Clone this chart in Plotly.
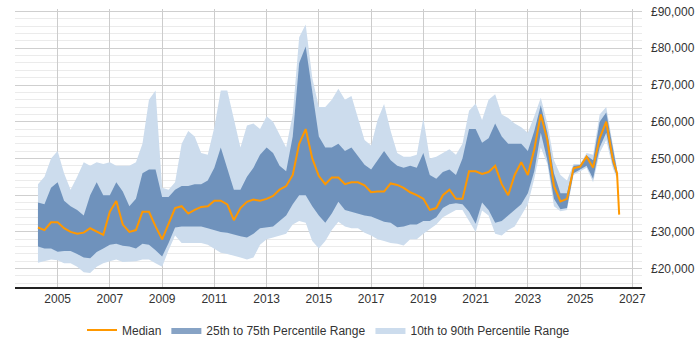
import pandas as pd
import plotly.graph_objects as go

# ---- data (quarterly, GBP) ----
quarters = [d.strftime("%Y-%m-%d") for d in pd.date_range("2004-04-01", "2026-04-01", freq="QS")]
band_dates = quarters + ["2026-06-01"]
median_dates = band_dates + ["2026-07-01"]

p10 = [21600, 22000, 22500, 22300, 21500, 21500, 20500, 19000, 18800, 20500,
       21500, 22000, 22500, 21800, 22000, 22000, 22500, 22500, 21500, 20500,
       25000, 29000, 27000, 27000, 27000, 27000, 26500, 25500, 24300, 24000,
       23600, 23000, 22500, 23000, 26500, 28000, 28500, 29000, 29500, 32000,
       33000, 32500, 27500, 25500, 27500, 30500, 32800, 31500, 31000, 31000,
       29800, 29000, 28000, 27500, 27000, 26800, 26300, 28000, 28000, 29500,
       30800, 32000, 34000, 35000, 36000, 36000, 33000, 30000, 35800, 34500,
       29500, 29000, 30500, 31500, 34500, 37500, 44500, 53000, 48500, 37000,
       35600, 36000, 45500, 46500, 47500, 43500, 51500, 55000, 47500, 44500]
p25 = [26000, 25500, 25500, 24600, 24800, 24800, 24000, 23000, 22800, 24500,
       25500, 26500, 26800, 26200, 26000, 25500, 26800, 26500, 25000, 23300,
       27000, 31200, 31500, 31500, 31500, 31500, 31000, 30500, 30000, 29800,
       29200, 28800, 28500, 29500, 31000, 31200, 31500, 33000, 34500, 37500,
       40000, 40000, 37000, 34500, 32500, 35000, 38200, 36000, 35500, 35000,
       34500, 34200, 33500, 32800, 32500, 31300, 31500, 32000, 32000, 33000,
       33000, 34000, 36500, 37500, 37800, 37500, 35500, 32200, 38000, 36000,
       32500, 33000, 34500, 36000, 37500, 40500, 46500, 57000, 49500, 39000,
       36200, 36500, 46000, 47000, 48000, 44500, 53000, 57000, 48500, 45000]
median = [31200, 30500, 32600, 32600, 31000, 30000, 29500, 29800, 31000, 30200,
          29200, 35500, 38400, 32000, 30000, 30500, 35500, 35500, 31500, 28000,
          32000, 36500, 37000, 35000, 36000, 36800, 37000, 38500, 38500, 37500,
          33200, 36500, 38200, 38800, 38500, 39000, 39800, 41500, 42500, 45500,
          54000, 58000, 50000, 45200, 43000, 44800, 44800, 43000, 43500, 43500,
          42700, 40800, 41000, 41000, 43200, 42800, 42000, 40800, 40000, 39000,
          36000, 36500, 40000, 41500, 39000, 39000, 46500, 46500, 45800, 46300,
          48000, 43000, 40000, 45500, 49000, 45500, 52500, 62000, 55000, 42500,
          38300, 39000, 47300, 47800, 50500, 47500, 55500, 60000, 50000, 46000,
          34700]
p75 = [38000, 37500, 42000, 43500, 38500, 37000, 36000, 34500, 40000, 43500,
       40000, 40000, 43500, 41000, 37000, 39000, 46000, 47000, 47000, 39500,
       39500, 41500, 42500, 42500, 43000, 43000, 44000, 47500, 53000, 47000,
       41500, 41500, 45000, 47500, 51000, 53000, 51500, 48000, 46500, 56000,
       76000, 80500, 68000, 56000, 53000, 53000, 54000, 52000, 53000, 50500,
       48300, 47000, 49500, 52000, 49500, 48000, 47500, 48000, 47500, 51500,
       45500, 44500, 46300, 47000, 45500, 50000, 58000, 58000, 54300, 55500,
       59500, 56000, 54000, 54000, 54000, 52000, 57500, 64500, 57000, 46000,
       40500, 40500, 48000, 48200, 50800, 49500, 60000, 62500, 52500, 46800]
p90 = [43000, 45000, 50000, 52000, 46000, 41500, 45000, 49000, 48000, 49000,
       48500, 49000, 48000, 48000, 48000, 49000, 54000, 66000, 68500, 42000,
       41500, 43500, 54000, 57500, 56000, 51500, 51000, 58500, 68500, 68500,
       61000, 53000, 59000, 59500, 58000, 61500, 60000, 56500, 53000, 62000,
       83000, 86500, 72000, 64000, 64000, 66000, 69000, 66000, 67000, 61000,
       55000, 53500, 60500, 64800, 57500, 51500, 50500, 50500, 51000, 61000,
       50000, 50500, 51500, 52500, 51000, 54000, 63000, 65000, 60500, 66000,
       67500, 62000, 61000, 59500, 58500, 57000, 61500, 66500, 59500, 49500,
       45500, 44000, 48500, 48500, 51500, 51000, 62000, 64000, 54000, 47500]

assert len(p10) == len(p25) == len(p75) == len(p90) == len(band_dates)
assert len(median) == len(median_dates)

year_ticks = [f"{y}-01-01" for y in range(2005, 2028, 2)]
year_labels = [str(y) for y in range(2005, 2028, 2)]
salary_ticks = [20000, 30000, 40000, 50000, 60000, 70000, 80000, 90000]
salary_labels = ["\u00a3{:,}".format(v) for v in salary_ticks]

LIGHT = "rgb(204,220,237)"
DARK = "rgba(24,78,143,0.52)"
ORANGE = "rgb(255,152,0)"
FONT = "Liberation Sans, Arial, sans-serif"

fig = go.Figure()
fig.add_trace(go.Scatter(x=band_dates, y=p10, mode="lines", line=dict(width=0),
                         showlegend=False, hoverinfo="skip"))
fig.add_trace(go.Scatter(x=band_dates, y=p90, mode="lines", line=dict(width=0),
                         fill="tonexty", fillcolor=LIGHT,
                         name="10th to 90th Percentile Range", legendrank=3))
fig.add_trace(go.Scatter(x=band_dates, y=p25, mode="lines", line=dict(width=0),
                         showlegend=False, hoverinfo="skip"))
fig.add_trace(go.Scatter(x=band_dates, y=p75, mode="lines", line=dict(width=0),
                         fill="tonexty", fillcolor=DARK,
                         name="25th to 75th Percentile Range", legendrank=2))
fig.add_trace(go.Scatter(x=median_dates, y=median, mode="lines",
                         line=dict(color=ORANGE, width=2),
                         name="Median", legendrank=1))

fig.update_layout(
    width=700, height=350,
    margin=dict(l=15, r=58, t=5, b=58),
    paper_bgcolor="white", plot_bgcolor="white",
    font=dict(family=FONT, size=12, color="#333"),
    showlegend=True,
    legend=dict(orientation="h", x=0.5, xanchor="center", y=-0.155, yanchor="middle",
                font=dict(size=12, color="#333"), traceorder="normal"),
    xaxis=dict(
        type="date",
        range=["2003-05-16", "2027-05-16"],
        tickvals=year_ticks, ticktext=year_labels,
        showgrid=True, gridcolor="#cccccc", gridwidth=1,
        showline=True, linecolor="#222", linewidth=1.5,
        ticks="", tickfont=dict(size=12, color="#333"),
        zeroline=False,
    ),
    yaxis=dict(
        side="right",
        range=[15000, 90700],
        tickvals=salary_ticks, ticktext=salary_labels,
        showgrid=True, gridcolor="#cfcfcf", gridwidth=1,
        minor=dict(dtick=2000, tick0=0, showgrid=True, gridcolor="#ebebeb", gridwidth=1),
        showline=False, zeroline=False, ticks="",
        ticklabelstandoff=8,
        tickfont=dict(size=12, color="#333"),
    ),
)

fig.write_html("out.html")
